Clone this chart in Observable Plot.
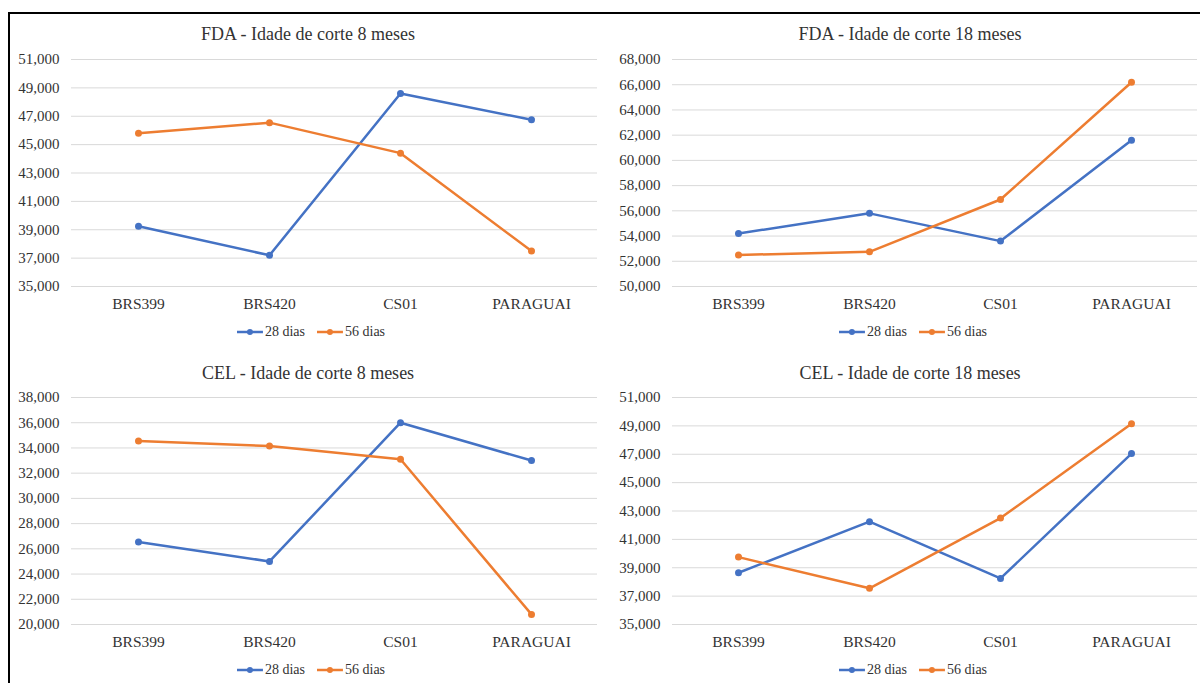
<!DOCTYPE html>
<html>
<head>
<meta charset="utf-8">
<script src="https://cdn.jsdelivr.net/npm/d3@7"></script>
<script src="https://cdn.jsdelivr.net/npm/@observablehq/plot@0.6"></script>
<style>
  html, body { margin: 0; padding: 0; background: #fff; }
  #root { position: relative; width: 1200px; height: 683px; overflow: hidden;
          font-family: "Liberation Serif", "Times New Roman", serif; color: #333; }
  #root, #root * { font-family: "Liberation Serif", "Times New Roman", serif !important; }
  .bt { position: absolute; left: 8px; top: 12px; width: 1192px; height: 2px; background: #000; }
  .bl { position: absolute; left: 8px; top: 12px; width: 2px; height: 671px; background: #000; }
  .plot { position: absolute; }
  .plot text { fill: #333; }
  .title { position: absolute; font-size: 18px; line-height: 1; white-space: nowrap;
           transform: translate(-50%, -50%); color: #333; }
  .legend { position: absolute; font-size: 14px; line-height: 1; white-space: nowrap;
            transform: translate(-50%, -50%); display: flex; align-items: center; color: #333; }
  .legend .item { display: flex; align-items: center; margin: 0 6px; }
  .legend svg { margin-right: 2px; }
</style>
</head>
<body>
<div id="root">
  <div class="bt"></div>
  <div class="bl"></div>
</div>
<script>
// ---- data ----
const categories = ["BRS399", "BRS420", "CS01", "PARAGUAI"];
const seriesNames = ["28 dias", "56 dias"];
const seriesColors = ["#4472C4", "#ED7D31"];

const titles = [
  "FDA - Idade de corte 8 meses",
  "FDA - Idade de corte 18 meses",
  "CEL - Idade de corte 8 meses",
  "CEL - Idade de corte 18 meses"
];

const fda8_28 = [39.25, 37.2, 48.6, 46.75];
const fda8_56 = [45.8, 46.55, 44.4, 37.5];
const fda18_28 = [54.2, 55.8, 53.6, 61.6];
const fda18_56 = [52.5, 52.75, 56.9, 66.2];
const cel8_28 = [26.55, 25.0, 36.0, 33.0];
const cel8_56 = [34.55, 34.15, 33.1, 20.8];
const cel18_28 = [38.65, 42.25, 38.25, 47.05];
const cel18_56 = [39.75, 37.55, 42.5, 49.15];

const ticksFda8 = [35, 37, 39, 41, 43, 45, 47, 49, 51];
const ticksFda18 = [50, 52, 54, 56, 58, 60, 62, 64, 66, 68];
const ticksCel8 = [20, 22, 24, 26, 28, 30, 32, 34, 36, 38];
const ticksCel18 = [35, 37, 39, 41, 43, 45, 47, 49, 51];

// ---- build ----
const ptFormat = d3.formatLocale({decimal: ",", thousands: ".", grouping: [3], currency: ["", ""]}).format(".3f");

function rows(a, b) {
  const out = [];
  categories.forEach((c, i) => out.push({cat: c, value: a[i], series: seriesNames[0]}));
  categories.forEach((c, i) => out.push({cat: c, value: b[i], series: seriesNames[1]}));
  return out;
}

const panels = [
  {data: rows(fda8_28, fda8_56), ticks: ticksFda8, left: 0, top: 40, ml: 71, cx: 308, titleY: 34, legendY: 332},
  {data: rows(fda18_28, fda18_56), ticks: ticksFda18, left: 600, top: 40, ml: 72, cx: 910, titleY: 34, legendY: 332},
  {data: rows(cel8_28, cel8_56), ticks: ticksCel8, left: 0, top: 378, ml: 71, cx: 308, titleY: 372.5, legendY: 670},
  {data: rows(cel18_28, cel18_56), ticks: ticksCel18, left: 600, top: 378, ml: 72, cx: 910, titleY: 372.5, legendY: 670}
];

const root = document.getElementById("root");

panels.forEach((p, k) => {
  const [lo, hi] = d3.extent(p.ticks);
  const chart = Plot.plot({
    width: 600,
    height: 280,
    marginTop: 19,
    marginBottom: 34,
    marginLeft: p.ml,
    marginRight: 3,
    style: {fontFamily: '"Liberation Serif", "Times New Roman", serif', color: "#333", background: "transparent", overflow: "visible"},
    x: {type: "point", domain: categories, padding: 0.5},
    y: {domain: [lo, hi]},
    color: {domain: seriesNames, range: seriesColors},
    marks: [
      Plot.gridY(p.ticks, {stroke: "#d9d9d9", strokeOpacity: 1, strokeWidth: 1}),
      Plot.axisY(p.ticks, {tickSize: 0, tickPadding: 12, fontSize: 15, tickFormat: ptFormat, label: null}),
      Plot.axisX({tickSize: 0, tickPadding: 11, fontSize: 15.5, label: null}),
      Plot.line(p.data, {x: "cat", y: "value", z: "series", stroke: "series", strokeWidth: 2.5}),
      Plot.dot(p.data, {x: "cat", y: "value", fill: "series", r: 3.5})
    ]
  });
  chart.classList.add("plot");
  chart.style.left = p.left + "px";
  chart.style.top = p.top + "px";
  root.appendChild(chart);

  const t = document.createElement("div");
  t.className = "title";
  t.textContent = titles[k];
  t.style.left = p.cx + "px";
  t.style.top = p.titleY + "px";
  root.appendChild(t);

  const lg = document.createElement("div");
  lg.className = "legend";
  lg.style.left = (p.cx + 3) + "px";
  lg.style.top = p.legendY + "px";
  seriesNames.forEach((s, i) => {
    const it = document.createElement("span");
    it.className = "item";
    it.innerHTML = `<svg width="26" height="8"><line x1="0" x2="26" y1="4" y2="4" stroke="${seriesColors[i]}" stroke-width="2.5"/><circle cx="13" cy="4" r="3" fill="${seriesColors[i]}"/></svg><span>${s}</span>`;
    lg.appendChild(it);
  });
  root.appendChild(lg);
});
</script>
</body>
</html>
